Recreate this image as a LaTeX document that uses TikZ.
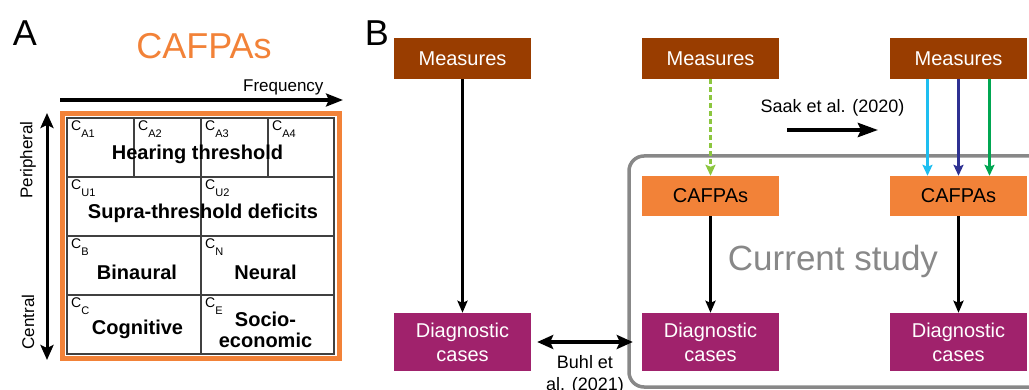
\documentclass[tikz,border=0pt]{standalone}
\usepackage{fontspec}
\setmainfont{Liberation Sans}
\usetikzlibrary{arrows.meta}
\definecolor{measbrown}{RGB}{153,61,0}
\definecolor{cafpaorange}{RGB}{242,130,56}
\definecolor{diagpurple}{RGB}{160,34,108}
\definecolor{studygray}{RGB}{136,136,136}
\definecolor{gridgray}{RGB}{64,64,64}
\definecolor{lightgreen}{RGB}{140,198,63}
\definecolor{skycyan}{RGB}{30,190,240}
\definecolor{navyblue}{RGB}{46,49,146}
\definecolor{darkgreen}{RGB}{0,166,81}
\newcommand{\fsz}[1]{\fontsize{#1}{#1}\selectfont}
\newcommand{\csub}[1]{C\raisebox{-6.5pt}{\fsz{11}#1}}

\begin{document}
\begin{tikzpicture}[x=1pt, y=-1pt, >=Stealth,
    box/.style = {minimum width=137pt, inner sep=0pt, align=center, font=\fontsize{20}{24}\selectfont},
    measure/.style = {box, fill=measbrown, text=white, minimum height=41pt},
    cafpa/.style = {box, fill=cafpaorange, text=black, minimum height=40pt},
    diag/.style = {box, fill=diagpurple, text=white, minimum height=58pt},
    cell/.style = {anchor=north west, inner sep=0pt, font=\fsz{14}},
    area/.style = {font=\bfseries\fontsize{20}{21}\selectfont, align=center},
    edge/.style = {->, line width=2.6pt, >={Stealth[length=12pt, width=10pt, inset=2pt]}},
    thinedge/.style = {->, line width=2.2pt, >={Stealth[length=11pt, width=10pt, inset=2pt]}}]
    \useasboundingbox (0,0) rectangle (1029,390);

    % Panel A
    \node[font=\fsz{36}] (lblA) at (25,33) {A};
    \node[font=\fsz{36}, text=cafpaorange] (title) at (204,46) {CAFPAs};
    \draw[->, line width=3.2pt, >={Stealth[length=17pt, width=13pt, inset=3pt]}] (60,100) -- (343,100);
    \node[font=\fsz{17}, anchor=base east] (freq) at (327,92) {Frequency};
    \draw[<->, line width=3pt, >={Stealth[length=15pt, width=13pt, inset=3pt]}] (47,113) -- (47,360);
    \node[font=\fsz{17}, rotate=90] (periph) at (28,160) {Peripheral};
    \node[font=\fsz{17}, rotate=90] (central) at (28,322) {Central};

    \draw[cafpaorange, line width=5pt] (62.5,113.5) rectangle (339.5,358.5);
    \draw[gridgray, line width=1.6pt] (67,118) rectangle (334,354);
    \draw[gridgray, line width=1.6pt] (67,177) -- (334,177) (67,236) -- (334,236) (67,295) -- (334,295);
    \draw[gridgray, line width=1.6pt] (134,118) -- (134,177) (268,118) -- (268,177) (201,118) -- (201,354);

    \node[cell] (ca1) at (71,121) {\csub{A1}};
    \node[cell] (ca2) at (138,121) {\csub{A2}};
    \node[cell] (ca3) at (205,121) {\csub{A3}};
    \node[cell] (ca4) at (272,121) {\csub{A4}};
    \node[cell] (cu1) at (71,180) {\csub{U1}};
    \node[cell] (cu2) at (205,180) {\csub{U2}};
    \node[cell] (cb) at (71,239) {\csub{B}};
    \node[cell] (cn) at (205,239) {\csub{N}};
    \node[cell] (cc) at (71,298) {\csub{C}};
    \node[cell] (ce) at (205,298) {\csub{E}};

    \node[area] (hear) at (197.5,154) {Hearing threshold};
    \node[area] (supra) at (203,213) {Supra-threshold deficits};
    \node[area] (bin) at (137,272) {Binaural};
    \node[area] (neur) at (265.5,272) {Neural};
    \node[area] (cog) at (137.5,329) {Cognitive};
    \node[area] (socio) at (265.5,330) {Socio-\\economic};

    % Panel B
    \node[font=\fsz{36}] (lblB) at (377,33) {B};
    \draw[studygray, line width=3.5pt, rounded corners=15pt] (629,156) rectangle (1060,387);
    \node[font=\fsz{35}, text=studygray] (study) at (833,261) {Current study};

    % Nodes
    \node[measure] (m1) at (462.5,58.5) {Measures};
    \node[measure] (m2) at (710.5,58.5) {Measures};
    \node[measure] (m3) at (958.5,58.5) {Measures};
    \node[cafpa] (c2) at (710.5,196) {CAFPAs};
    \node[cafpa] (c3) at (958.5,196) {CAFPAs};
    \node[diag] (d1) at (462.5,342) {Diagnostic\\cases};
    \node[diag] (d2) at (710.5,342) {Diagnostic\\cases};
    \node[diag] (d3) at (958.5,342) {Diagnostic\\cases};
    \coordinate (saakA) at (787,130);
    \coordinate (saakB) at (878,130);

    % Edges
    \draw[edge] (m1) -- (d1);
    \draw[thinedge, lightgreen, dashed, dash pattern=on 5pt off 3pt] (m2) -- (c2);
    \draw[edge] (c2) -- (d2);
    \draw[thinedge, skycyan] ([xshift=-31pt]m3.south) -- ([xshift=-31pt]c3.north);
    \draw[thinedge, navyblue] (m3) -- (c3);
    \draw[thinedge, darkgreen] ([xshift=31pt]m3.south) -- ([xshift=31pt]c3.north);
    \draw[edge] (c3) -- (d3);
    \draw[->, line width=4pt, >={Stealth[length=20pt, width=14pt, inset=3pt]}] (saakA) -- (saakB)
        node[midway, above=8pt, font=\fsz{18}, text=black] {Saak et al. (2020)};
    \draw[<->, line width=3.5pt, >={Stealth[length=16pt, width=14pt, inset=3pt]}] ([xshift=6pt]d1.east) -- ([xshift=-9pt]d2.west)
        node[midway, below=8pt, font=\fontsize{18}{22}\selectfont, align=center] {Buhl et\\al. (2021)};
\end{tikzpicture}
\end{document}
